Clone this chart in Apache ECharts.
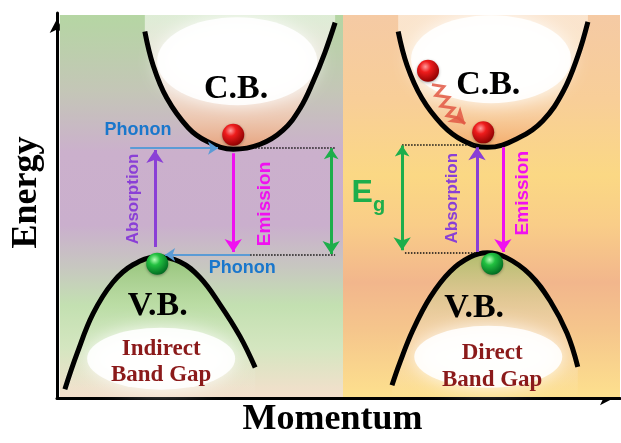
<!DOCTYPE html>
<html><head><meta charset="utf-8">
<script src="https://cdn.jsdelivr.net/npm/echarts/dist/echarts.min.js"></script>
<style>html,body{margin:0;padding:0;background:#fff}#c{width:621px;height:443px}</style>
</head><body><div id="c"></div>
<script>
// ---- data (Momentum 0..100, Energy 0..100) ----
const leftCB = [[15.6,95.2],[17.1,86.3],[19.5,77.9],[23.3,70.2],[26.6,66.7],[31.3,64.6],[36.1,65.9],[40.1,69.5],[43.2,75.3],[45.5,82.2],[47.6,89.8],[49.4,97.5]];
const leftVB = [[1.4,2.3],[3.6,11.7],[6.4,21.9],[9.9,30.0],[13.5,34.6],[17.8,36.6],[21.8,35.4],[25.4,31.3],[28.9,24.4],[32.5,16.0],[35.2,7.9]];
const rightCB = [[60.6,95.2],[62.2,86.3],[64.8,77.9],[68.4,71.0],[72.1,66.9],[76.4,65.1],[82.2,67.7],[86.3,72.0],[89.9,79.6],[92.5,88.8],[94.3,97.7]];
const rightVB = [[59.5,3.3],[60.9,9.2],[63.2,17.6],[66.3,26.2],[69.8,32.8],[73.4,36.6],[76.4,37.7],[79.9,36.4],[84.0,32.1],[87.6,25.2],[90.6,16.8],[92.5,8.1]];
const panels = [[0.5,0.25,50.8,99.5],[50.8,0.25,100,99.5]];
const cbGlows = [[32.0,87.5],[77.1,88.0]];
const vbGlows = [[18.5,10.2],[76.6,10.7]];
const phononArrows = [[[13.0,64.9],[28.6,64.9]],[[34.3,37.2],[19.2,37.2]]];
const absorptionArrows = [[[17.4,39.2],[17.4,64.4]],[[74.6,37.9],[74.6,65.1]]];
const emissionArrows = [[[31.3,63.6],[31.3,37.9]],[[79.2,65.1],[79.2,37.9]]];
const gapArrows = [[[48.7,64.9],[48.7,37.4]],[[61.3,65.6],[61.3,38.4]]];
const dottedLevels = [[[35.2,65.1],[49.4,65.1]],[[34.3,37.2],[49.4,37.2]],[[61.3,65.9],[74.2,65.9]],[[61.8,37.7],[74.6,37.7]]];
const relaxPath = [[66.6,81.4],[68.7,80.9],[67.3,78.6],[69.6,78.1],[68.2,75.8],[70.5,75.3],[69.3,73.3],[71.2,72.8]];
const relaxHead = [[[71.2,72.8],[72.5,71.2]]];
const electrons = [[31.3,68.4],[65.9,85.0],[75.7,69.0]];
const holes = [[17.8,34.9],[77.3,34.9]];
const bandLabels = [['C.B.',31.8,80.2],['C.B.',76.6,81.2],['V.B.',17.9,23.9],['V.B.',74.1,23.2]];
const gapTypeLabels = [['Indirect',18.5,12.7],['Band Gap',18.5,5.9],['Direct',77.3,11.7],['Band Gap',77.3,4.6]];
const phononLabels = [['Phonon',14.4,69.5],['Phonon',32.9,33.8]];
const absorptionLabels = [['Absorption',13.5,51.7],['Absorption',70.2,51.9]];
const emissionLabels = [['Emission',36.9,50.4],['Emission',82.8,53.2]];
const gapSymbolLabels = [['E',54.2,53.2]];
const gapSubLabels = [['g',57.2,49.9]];
const axisNames = ['Momentum','Energy'];

// ---- helpers ----
const SERIF = "'Liberation Serif','Times New Roman',serif";
const SANS = "'Liberation Sans',Arial,sans-serif";
const OVAL = 'path://M0,50 A50,50 0 1,1 100,50 A50,50 0 1,1 0,50 Z';
function lin(stops){return {type:'linear',x:0,y:0,x2:0,y2:1,colorStops:stops.map(c=>({offset:c[0],color:c[1]}))};}
function labelSeries(items, style){
  return {type:'scatter', z:8, silent:true, symbolSize:1, itemStyle:{color:'rgba(0,0,0,0)', opacity:1},
    data: items.map(d=>({value:[d[1],d[2]], name:d[0]})),
    label: Object.assign({show:true, position:'inside', formatter:'{b}'}, style)};
}
function arrowSeries(segs, color, width, symbol, symbolSize, type, z){
  return {type:'lines', coordinateSystem:'cartesian2d', z:z||5, silent:true, symbol, symbolSize,
    lineStyle:{color, width, opacity:1, type:type||'solid', curveness:0},
    data: segs.map(s=>({coords:s}))};
}
function bandArea(pts, origin, stops){
  return {type:'line', z:1, silent:true, data:pts, smooth:0.4, symbol:'none',
    lineStyle:{width:0, opacity:0}, areaStyle:{origin, opacity:1, color:lin(stops)}};
}
function bandLine(pts){
  return {type:'line', z:3, silent:true, data:pts, smooth:0.4, symbol:'none',
    lineStyle:{color:'#000', width:5}};
}
function glowSeries(pts, size){
  return {type:'scatter', z:2, silent:true, symbol:OVAL, symbolSize:size, data:pts,
    itemStyle:{color:'rgba(255,255,255,0.88)', opacity:1, shadowBlur:18, shadowColor:'rgba(255,255,255,0.95)'}};
}
function ballSeries(pts, stops, size){
  return {type:'scatter', z:7, silent:true, symbolSize:size, data:pts,
    itemStyle:{opacity:1, shadowBlur:3, shadowColor:'rgba(0,0,0,0.35)', shadowOffsetY:1,
      color:{type:'radial',x:0.38,y:0.32,r:0.72,colorStops:stops.map(c=>({offset:c[0],color:c[1]}))}}};
}
const RELAX = 'rgba(226,88,68,0.85)';

const chart = echarts.init(document.getElementById('c'));
chart.setOption({
  animation:false,
  grid:{left:57, right:1, top:13, bottom:37},
  xAxis:{type:'value', min:0, max:100, name:axisNames[0], nameLocation:'middle', nameGap:4,
    nameTextStyle:{fontFamily:SERIF, fontWeight:'bold', fontSize:36, color:'#000', padding:[0,12,0,0]},
    axisLine:{show:true, onZero:false, symbol:['none','arrow'], symbolSize:[11,14], symbolOffset:[0,-6], lineStyle:{color:'#000', width:3}},
    axisTick:{show:false}, axisLabel:{show:false}, splitLine:{show:false}},
  yAxis:{type:'value', min:0, max:100, name:axisNames[1], nameLocation:'middle', nameGap:12,
    nameTextStyle:{fontFamily:SERIF, fontWeight:'bold', fontSize:36, color:'#000', padding:[0,0,0,26]},
    axisLine:{show:true, onZero:false, symbol:['none','arrow'], symbolSize:[11,14], symbolOffset:[0,-6], lineStyle:{color:'#000', width:3}},
    axisTick:{show:false}, axisLabel:{show:false}, splitLine:{show:false}},
  series:[
    {type:'line', z:0, silent:true, data:[], markArea:{silent:true, data:[
      [{coord:[panels[0][0],panels[0][1]], itemStyle:{color:lin([[0,'#b5d6a3'],[0.2,'#c4c6b7'],[0.36,'#cbb0cc'],[0.55,'#caafcd'],[0.66,'#c7c7c0'],[0.76,'#c3e0b1'],[0.87,'#d4e6c0'],[1,'#f4dfcc']])}},{coord:[panels[0][2],panels[0][3]]}],
      [{coord:[panels[1][0],panels[1][1]], itemStyle:{color:lin([[0,'#f5caa4'],[0.22,'#f8ce98'],[0.42,'#fbd884'],[0.55,'#f9cd88'],[0.7,'#f2b68c'],[0.82,'#f5c58c'],[1,'#fde08e']])}},{coord:[panels[1][2],panels[1][3]]}]
    ]}},
    bandArea(leftCB, 99.5, [[0,'rgba(255,255,255,0.55)'],[0.55,'rgba(245,226,214,0.85)'],[0.8,'rgba(238,196,170,0.95)'],[1,'rgba(230,162,124,1)']]),
    bandArea(rightCB, 99.5, [[0,'rgba(255,250,240,0.55)'],[0.55,'rgba(250,228,200,0.85)'],[0.8,'rgba(247,200,150,0.95)'],[1,'rgba(244,172,108,1)']]),
    bandArea(leftVB, 0.25, [[0,'rgba(146,198,116,0.95)'],[0.3,'rgba(178,217,152,0.7)'],[0.6,'rgba(205,230,190,0.3)'],[1,'rgba(255,255,255,0)']]),
    bandArea(rightVB, 0.25, [[0,'rgba(172,188,106,0.95)'],[0.3,'rgba(214,204,148,0.7)'],[0.6,'rgba(245,225,200,0.4)'],[1,'rgba(255,255,255,0)']]),
    glowSeries(cbGlows, [160, 88]),
    glowSeries(vbGlows, [148, 62]),
    bandLine(leftCB), bandLine(rightCB), bandLine(leftVB), bandLine(rightVB),
    arrowSeries(dottedLevels, '#111', 1.5, ['none','none'], 1, 'dotted', 4),
    arrowSeries(phononArrows, '#5b9bd5', 2, ['none','arrow'], [8,10]),
    arrowSeries(absorptionArrows, '#8a3fd6', 3, ['none','arrow'], [11,13]),
    arrowSeries(emissionArrows, '#f010f0', 3, ['none','arrow'], [11,13]),
    arrowSeries(gapArrows, '#1dae4b', 3, ['arrow','arrow'], [11,13]),
    {type:'lines', coordinateSystem:'cartesian2d', polyline:true, z:6, silent:true,
      lineStyle:{color:RELAX, width:3, opacity:1}, data:[{coords:relaxPath}]},
    arrowSeries(relaxHead, RELAX, 3, ['none','arrow'], [13,15], 'solid', 6),
    ballSeries(electrons, [[0,'#ff9c9c'],[0.35,'#ee1c1c'],[1,'#8a0000']], 22),
    ballSeries(holes, [[0,'#b4ffb4'],[0.35,'#22c040'],[1,'#006820']], 22),
    labelSeries(bandLabels, {fontFamily:SERIF, fontWeight:'bold', fontSize:34, color:'#000'}),
    labelSeries(gapTypeLabels, {fontFamily:SERIF, fontWeight:'bold', fontSize:23, color:'#8b1a1a'}),
    labelSeries(phononLabels, {fontFamily:SANS, fontWeight:'bold', fontSize:18, color:'#1a77cc'}),
    labelSeries(absorptionLabels, {fontFamily:SANS, fontWeight:'bold', fontSize:17, color:'#8a3fd6', rotate:90}),
    labelSeries(emissionLabels, {fontFamily:SANS, fontWeight:'bold', fontSize:19, color:'#f010f0', rotate:90}),
    labelSeries(gapSymbolLabels, {fontFamily:SANS, fontWeight:'bold', fontSize:32, color:'#1dae4b'}),
    labelSeries(gapSubLabels, {fontFamily:SANS, fontWeight:'bold', fontSize:20, color:'#1dae4b'})
  ]
});
</script></body></html>
